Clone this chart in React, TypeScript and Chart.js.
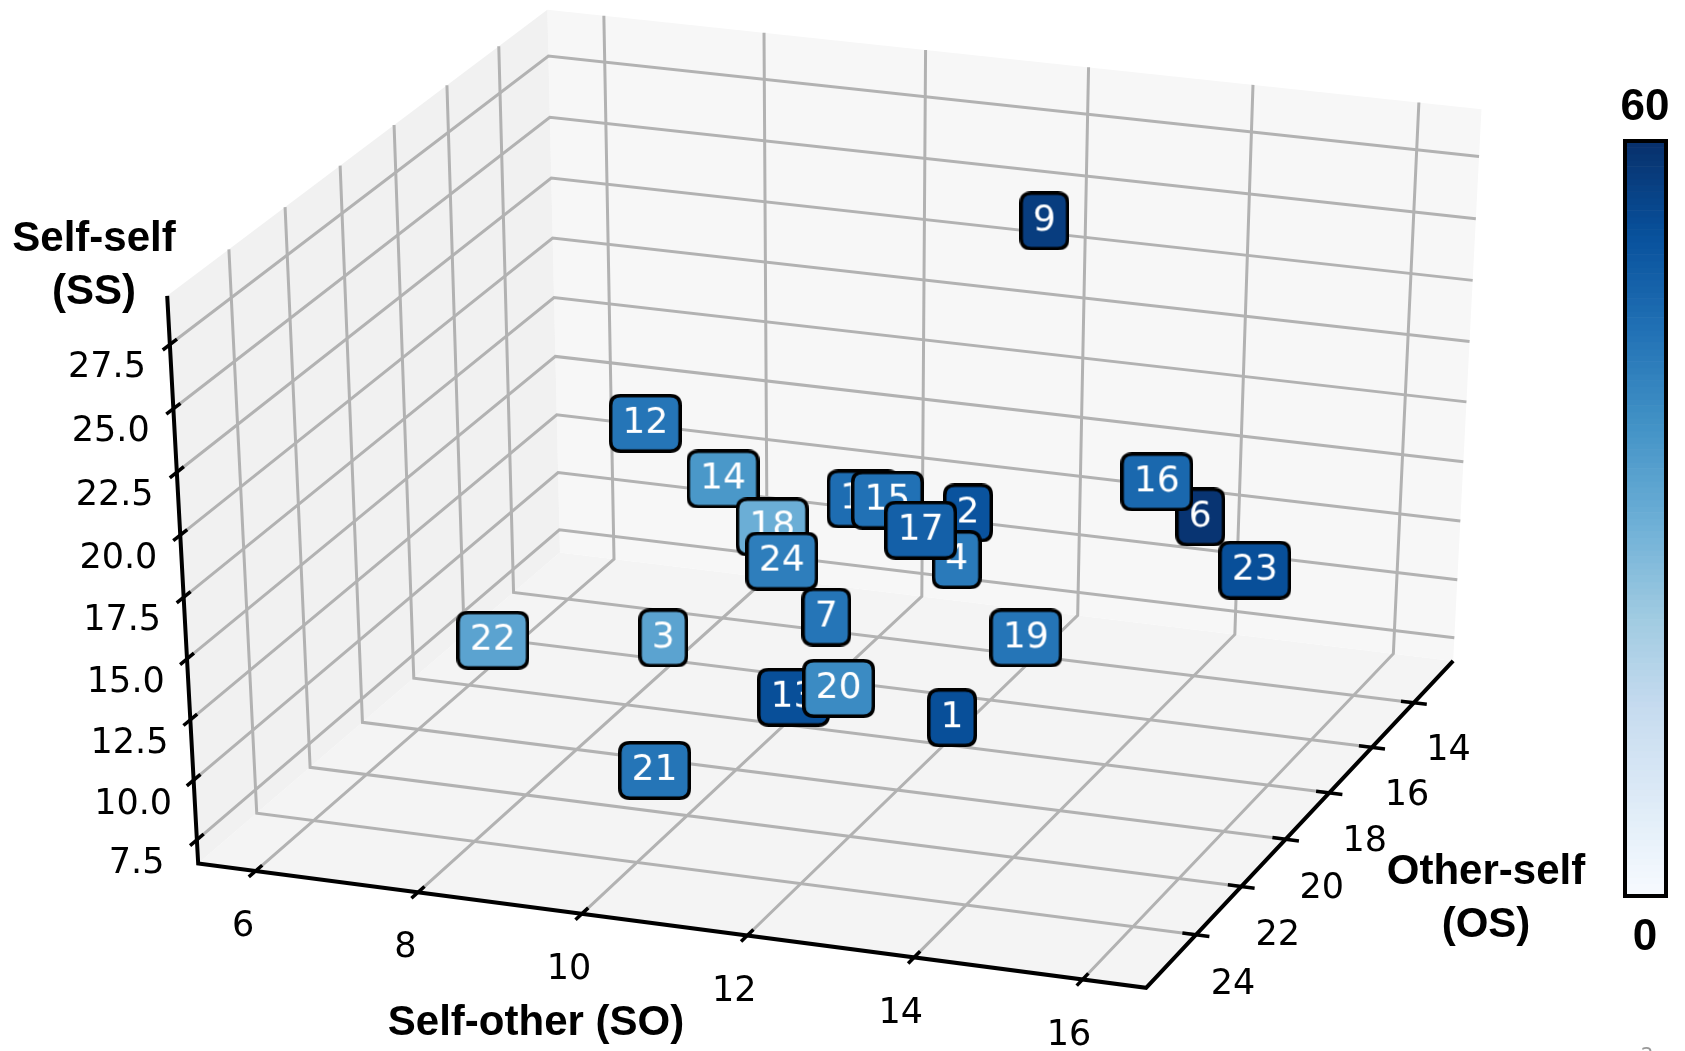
import React, { useEffect, useRef } from "react";
import { Chart, registerables } from "chart.js";

Chart.register(...registerables);

const WIDTH = 1685;
const HEIGHT = 1051;

// Participants: self-other (SO), other-self (OS), self-self (SS) scores and colour value
const ids = [1, 2, 3, 4, 6, 7, 9, 11, 12, 13, 14, 15, 16, 17, 18, 19, 20, 21, 22, 23, 24];
const selfOther = [13.38, 11.98, 9.11, 12.56, 14.68, 11.42, 12.44, 10.98, 7.67, 11.77, 9.1, 11.57, 13.74, 12.41, 10.01, 13.97, 12.46, 9.92, 7.64, 15.75, 10.58];
const otherSelf = [22.5, 17.0, 20.0, 19.5, 16.5, 21.0, 15.5, 18.0, 16.0, 23.5, 17.5, 19.0, 15.0, 20.5, 18.5, 21.5, 24.0, 23.0, 22.0, 18.0, 20.0];
const selfSelf = [12.55, 15.34, 11.7, 15.91, 15.81, 14.46, 26.13, 16.42, 16.48, 13.66, 16.05, 17.5, 15.55, 17.96, 15.32, 15.13, 14.79, 9.35, 12.86, 15.41, 15.5];
const intensity = [53, 52, 33, 43, 59, 44, 57, 46, 44, 53, 36, 45, 47, 49, 30, 44, 39, 44, 33, 53, 42];

// Axis limits and ticks
const soLimits = [5.29, 16.75];
const osLimits = [12.09, 26.15];
const ssLimits = [6.5, 29.38];
const soTicks = [6, 8, 10, 12, 14, 16];
const osTicks = [14, 16, 18, 20, 22, 24];
const ssTicks = [7.5, 10, 12.5, 15, 17.5, 20, 22.5, 25, 27.5];
const colorRange = [0, 60];

// Camera and box
const AZIM = -70;
const ELEV = 31;
const DIST = 23;
const HALF = [1, 1, 1.03];
// projected-plane window shown by the canvas
const VIEW_X = [-1.6666, 1.6793];
const VIEW_Y = [-1.7658, 1.5206];

const BLUES = ["#f7fbff", "#deebf7", "#c6dbef", "#9ecae1", "#6baed6", "#4292c6", "#2171b5", "#08519c", "#08306b"];

function hexToRgb(h: string) {
  return [parseInt(h.slice(1, 3), 16), parseInt(h.slice(3, 5), 16), parseInt(h.slice(5, 7), 16)];
}

function blues(t: number) {
  const v = Math.max(0, Math.min(1, t)) * (BLUES.length - 1);
  const i = Math.min(BLUES.length - 2, Math.floor(v));
  const f = v - i;
  const a = hexToRgb(BLUES[i]);
  const b = hexToRgb(BLUES[i + 1]);
  const c = a.map((x, k) => Math.round(x + (b[k] - x) * f));
  return `rgb(${c[0]},${c[1]},${c[2]})`;
}

type V3 = [number, number, number];

function toBox(so: number, os: number, ss: number): V3 {
  const X = HALF[0] * ((2 * (so - soLimits[0])) / (soLimits[1] - soLimits[0]) - 1);
  const Y = HALF[1] * (1 - (2 * (os - osLimits[0])) / (osLimits[1] - osLimits[0]));
  const Z = HALF[2] * ((2 * (ss - ssLimits[0])) / (ssLimits[1] - ssLimits[0]) - 1);
  return [X, Y, Z];
}

function project(P: V3) {
  const a = (AZIM * Math.PI) / 180;
  const e = (ELEV * Math.PI) / 180;
  const sa = Math.sin(a), ca = Math.cos(a), se = Math.sin(e), ce = Math.cos(e);
  const [X, Y, Z] = P;
  const xc = -sa * X + ca * Y;
  const yc = -se * ca * X - se * sa * Y + ce * Z;
  const depth = -ce * ca * X - ce * sa * Y - se * Z;
  const m = DIST / (DIST + depth);
  return { x: xc * m, y: yc * m };
}

const soToX = (v: number) => toBox(v, osLimits[0], ssLimits[0])[0];
const osToY = (v: number) => toBox(soLimits[0], v, ssLimits[0])[1];
const ssToZ = (v: number) => toBox(soLimits[0], osLimits[0], v)[2];

function roundRect(g: CanvasRenderingContext2D, x: number, y: number, w: number, h: number, r: number) {
  g.beginPath();
  g.moveTo(x + r, y);
  g.lineTo(x + w - r, y);
  g.quadraticCurveTo(x + w, y, x + w, y + r);
  g.lineTo(x + w, y + h - r);
  g.quadraticCurveTo(x + w, y + h, x + w - r, y + h);
  g.lineTo(x + r, y + h);
  g.quadraticCurveTo(x, y + h, x, y + h - r);
  g.lineTo(x, y + r);
  g.quadraticCurveTo(x, y, x + r, y);
  g.closePath();
}

function labelBox(text: string, fill: string) {
  const font = '36px "DejaVu Sans"';
  const c = document.createElement("canvas");
  const probe = c.getContext("2d") as CanvasRenderingContext2D;
  probe.font = font;
  const tw = probe.measureText(text).width;
  const w = Math.round(tw + 27);
  const h = 59;
  c.width = w;
  c.height = h;
  const g = c.getContext("2d") as CanvasRenderingContext2D;
  const lw = 3.5;
  roundRect(g, lw / 2, lw / 2, w - lw, h - lw, 10);
  g.fillStyle = fill;
  g.fill();
  g.lineWidth = lw;
  g.strokeStyle = "#000";
  g.stroke();
  g.fillStyle = "#fff";
  g.font = font;
  g.textAlign = "center";
  g.textBaseline = "alphabetic";
  g.fillText(text, w / 2, h / 2 + 9.8);
  return c;
}

const framePlugin = {
  id: "frame3d",
  beforeDatasetsDraw(chart: any) {
    const { ctx, scales } = chart;
    const px = (P: V3): [number, number] => {
      const p = project(P);
      return [scales.x.getPixelForValue(p.x), scales.y.getPixelForValue(p.y)];
    };
    const hz = HALF[2];
    const path = (pts: V3[], close = false) => {
      ctx.beginPath();
      pts.forEach((P, i) => {
        const [x, y] = px(P);
        if (i === 0) ctx.moveTo(x, y);
        else ctx.lineTo(x, y);
      });
      if (close) ctx.closePath();
    };
    ctx.save();

    // panes
    path([[-1, -1, -hz], [1, -1, -hz], [1, 1, -hz], [-1, 1, -hz]], true);
    ctx.fillStyle = "#f4f4f4";
    ctx.fill();
    path([[-1, 1, -hz], [1, 1, -hz], [1, 1, hz], [-1, 1, hz]], true);
    ctx.fillStyle = "#f7f7f7";
    ctx.fill();
    path([[-1, -1, -hz], [-1, 1, -hz], [-1, 1, hz], [-1, -1, hz]], true);
    ctx.fillStyle = "#f1f1f1";
    ctx.fill();

    // grid
    ctx.strokeStyle = "#b2b2b2";
    ctx.lineWidth = 3;
    ctx.lineJoin = "miter";
    soTicks.forEach((v) => {
      const X = soToX(v);
      path([[X, -1, -hz], [X, 1, -hz], [X, 1, hz]]);
      ctx.stroke();
    });
    osTicks.forEach((v) => {
      const Y = osToY(v);
      path([[1, Y, -hz], [-1, Y, -hz], [-1, Y, hz]]);
      ctx.stroke();
    });
    ssTicks.forEach((v) => {
      const Z = ssToZ(v);
      path([[-1, -1, Z], [-1, 1, Z], [1, 1, Z]]);
      ctx.stroke();
    });

    // axis lines
    ctx.strokeStyle = "#000";
    ctx.lineWidth = 4;
    path([[-1, -1, hz], [-1, -1, -hz], [1, -1, -hz], [1, 1, -hz]]);
    ctx.stroke();

    // tick marks
    ctx.lineWidth = 3.5;
    const tk = 0.035;
    const tx = 0.028;
    soTicks.forEach((v) => {
      const X = soToX(v);
      path([[X, -1 - tk, -hz], [X, -1 + tk, -hz]]);
      ctx.stroke();
    });
    osTicks.forEach((v) => {
      const Y = osToY(v);
      path([[1 - tx, Y, -hz], [1 + tx, Y, -hz]]);
      ctx.stroke();
    });
    ssTicks.forEach((v) => {
      const Z = ssToZ(v);
      path([[-1, -1 - tk, Z], [-1, -1 + tk, Z]]);
      ctx.stroke();
    });

    // tick labels
    ctx.fillStyle = "#000";
    ctx.font = '35px "DejaVu Sans"';
    ctx.textAlign = "center";
    ctx.textBaseline = "middle";
    soTicks.forEach((v) => {
      const [x, y] = px([soToX(v), -1.076, -hz - 0.163]);
      ctx.fillText(String(v), x, y);
    });
    osTicks.forEach((v) => {
      const [x, y] = px([1.08, osToY(v), -hz - 0.17]);
      ctx.fillText(String(v), x, y);
    });
    ssTicks.forEach((v) => {
      const [x, y] = px([-1.065, -1.159, ssToZ(v)]);
      ctx.fillText(v.toFixed(1), x + 1, y + 2);
    });

    // axis titles
    ctx.font = 'bold 42px "Liberation Sans"';
    ctx.textBaseline = "alphabetic";
    ctx.fillText("Self-self", 94, 251);
    ctx.fillText("(SS)", 94, 304);
    ctx.fillText("Self-other (SO)", 536, 1035);
    ctx.fillText("Other-self", 1486, 884);
    ctx.fillText("(OS)", 1486, 937);

    // colour bar
    const cb = { x0: 1625, x1: 1666, y0: 141, y1: 896 };
    const steps = 120;
    for (let i = 0; i < steps; i++) {
      const yA = cb.y1 - (cb.y1 - cb.y0) * (i / steps);
      const yB = cb.y1 - (cb.y1 - cb.y0) * ((i + 1) / steps);
      ctx.fillStyle = blues((i + 0.5) / steps);
      ctx.fillRect(cb.x0, yB, cb.x1 - cb.x0, yA - yB + 0.6);
    }
    ctx.strokeStyle = "#000";
    ctx.lineWidth = 4;
    ctx.strokeRect(cb.x0, cb.y0, cb.x1 - cb.x0, cb.y1 - cb.y0);
    ctx.fillStyle = "#000";
    ctx.font = 'bold 44px "Liberation Sans"';
    ctx.textAlign = "center";
    ctx.fillText(String(colorRange[1]), 1645, 120);
    ctx.fillText(String(colorRange[0]), 1645, 950);

    ctx.fillStyle = "#999";
    ctx.font = '20px "DejaVu Sans"';
    ctx.fillText("2", 1647, 1061);

    ctx.restore();
  },
};

export default function App() {
  const ref = useRef<HTMLCanvasElement | null>(null);

  useEffect(() => {
    const canvas = ref.current;
    if (!canvas) return;
    const points = ids.map((_, i) => project(toBox(selfOther[i], otherSelf[i], selfSelf[i])));
    const styles = ids.map((id, i) =>
      labelBox(String(id), blues((intensity[i] - colorRange[0]) / (colorRange[1] - colorRange[0])))
    );
    const chart = new Chart(canvas, {
      type: "scatter",
      data: {
        datasets: [
          {
            data: points,
            pointStyle: styles as any,
            pointRadius: 4,
            clip: false as any,
          },
        ],
      },
      options: {
        responsive: false,
        animation: false,
        devicePixelRatio: 1,
        events: [],
        layout: { padding: 0 },
        scales: {
          x: { type: "linear", min: VIEW_X[0], max: VIEW_X[1], display: false },
          y: { type: "linear", min: VIEW_Y[0], max: VIEW_Y[1], display: false },
        },
        plugins: { legend: { display: false }, tooltip: { enabled: false } },
      },
      plugins: [framePlugin],
    });
    return () => chart.destroy();
  }, []);

  return (
    <div style={{ position: "absolute", left: 0, top: 0, width: WIDTH, height: HEIGHT, background: "#fff" }}>
      <canvas ref={ref} width={WIDTH} height={HEIGHT} style={{ display: "block" }} />
    </div>
  );
}
